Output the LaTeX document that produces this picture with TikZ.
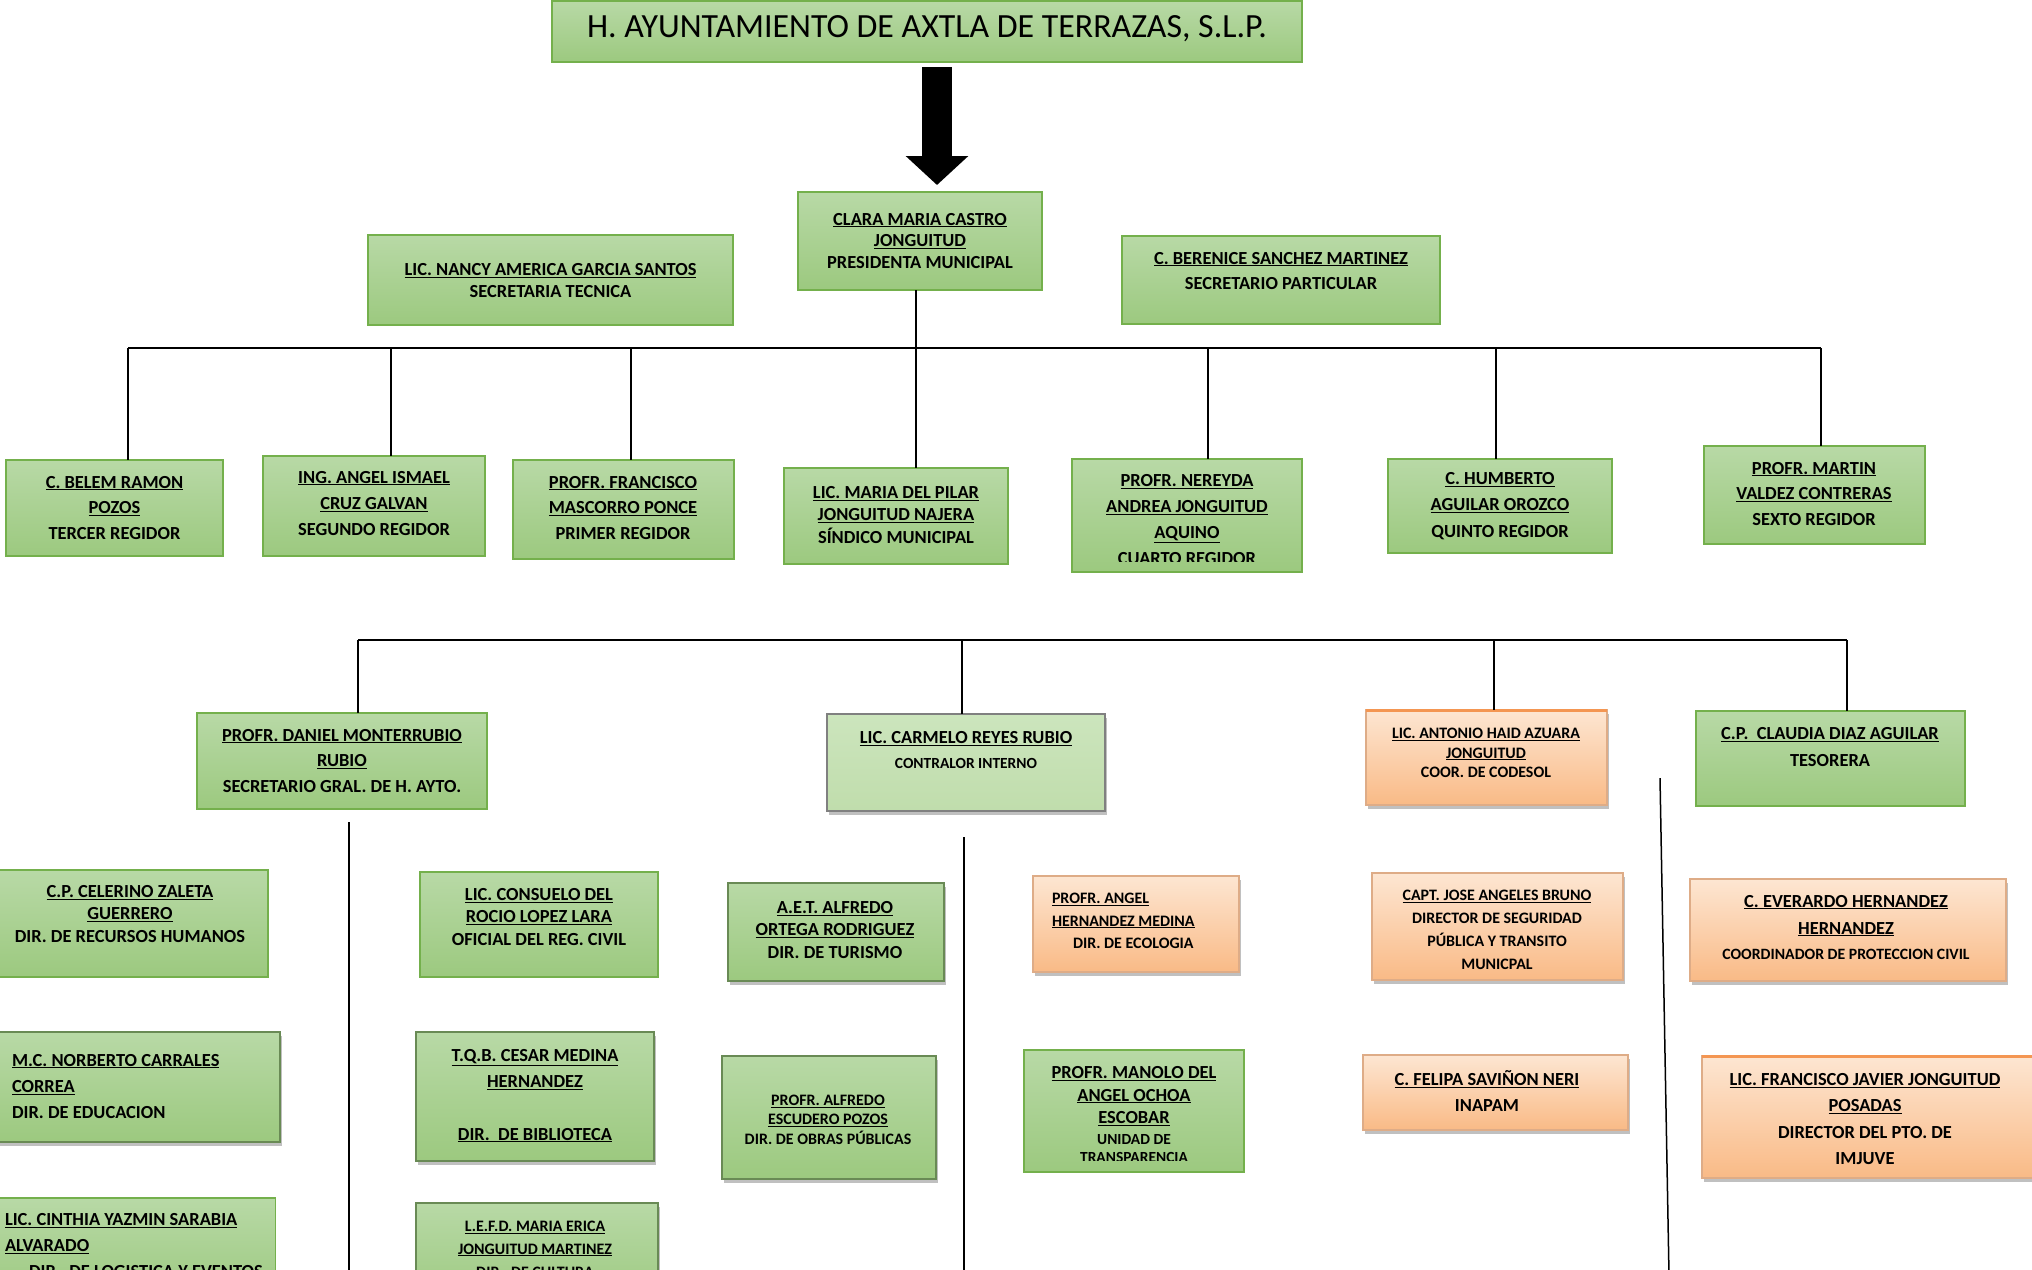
\documentclass[tikz,border=0pt]{standalone}
\usepackage{fontspec}
\setmainfont{Carlito}
\usetikzlibrary{arrows.meta,shadows}
\definecolor{gtop}{RGB}{184,217,166}
\definecolor{gbot}{RGB}{156,201,127}
\definecolor{gdraw}{RGB}{116,176,76}
\definecolor{ltop}{RGB}{204,229,189}
\definecolor{lbot}{RGB}{192,221,172}
\definecolor{otop}{RGB}{253,230,210}
\definecolor{obot}{RGB}{249,186,134}
\definecolor{odraw}{RGB}{222,172,135}
\definecolor{oline}{RGB}{244,150,82}
\definecolor{sdraw}{RGB}{105,138,85}
\newcommand\setfs[2]{\fontsize{#1}{#2}\selectfont\bfseries}
\newcommand\ulx[1]{\underline{#1}}
\tikzset{
 box/.style={inner sep=0pt, outer sep=0pt, line width=1.3bp},
 shad/.style={drop shadow={shadow xshift=2bp, shadow yshift=-3.5bp, fill=black!55, opacity=0.45}},
 gbox/.style={box, draw=gdraw, top color=gtop, bottom color=gbot},
 sbox/.style={box, shad, draw=sdraw, top color=gtop, bottom color=gbot},
 lbox/.style={box, shad, draw=black!50, top color=ltop, bottom color=lbot},
 obox/.style={box, shad, draw=odraw, top color=otop, bottom color=obot},
 txt/.style={inner sep=0pt, outer sep=0pt, align=center, text=black},
 ltxt/.style={inner sep=0pt, outer sep=0pt, align=left, anchor=west, text=black},
 link/.style={draw=black, line width=1.5bp},
 topline/.style={draw=oline, line width=3bp},
}
\begin{document}
\begin{tikzpicture}[x=1bp, y=-1bp]
\useasboundingbox (0,0) rectangle (2032,1269);
\clip (0,0) rectangle (2032,1269);

% ---------- title ----------
\node[gbox, minimum width=750bp, minimum height=61bp] (title) at (927,31.5) {};
\node[txt, font=\fontsize{34}{40}\selectfont] (titleT) at (927,29) {H. AYUNTAMIENTO DE AXTLA DE TERRAZAS, S.L.P.};

% ---------- top level ----------
\node[gbox, minimum width=244bp, minimum height=98bp] (clara) at (920,241) {};
\node[txt, font=\setfs{18.5}{22}] (claraT) at (920,241) {\ulx{CLARA MARIA CASTRO}\\\ulx{JONGUITUD}\\PRESIDENTA MUNICIPAL};

\node[gbox, minimum width=365bp, minimum height=90bp] (nancy) at (550.5,280) {};
\node[txt, font=\setfs{18.5}{22}] (nancyT) at (550.5,280.6) {\ulx{LIC. NANCY AMERICA GARCIA SANTOS}\\SECRETARIA TECNICA};

\node[gbox, minimum width=318bp, minimum height=88bp] (berenice) at (1281,280) {};
\node[txt, font=\setfs{18.5}{26}] (bereniceT) at (1281,271) {\ulx{C. BERENICE SANCHEZ MARTINEZ}\\SECRETARIO PARTICULAR};

\coordinate (ax) at (937,0);
\draw[line width=30bp, -{Triangle[width=61bp,length=29bp]}, shorten <=5bp, shorten >=7bp] (title.south -| ax) -- (clara.north -| ax);

% ---------- regidores ----------
\node[gbox, minimum width=217bp, minimum height=96bp] (belem) at (114.5,508) {};
\node[txt, font=\setfs{18.5}{26}] (belemT) at (114.5,508) {\ulx{C. BELEM RAMON}\\\ulx{POZOS}\\TERCER REGIDOR};

\node[gbox, minimum width=222bp, minimum height=100bp] (angel) at (374,506) {};
\node[txt, font=\setfs{18.5}{26.5}] (angelT) at (374,503.5) {\ulx{ING. ANGEL ISMAEL}\\\ulx{CRUZ GALVAN}\\SEGUNDO REGIDOR};

\node[gbox, minimum width=221bp, minimum height=99bp] (francisco) at (623.5,509.5) {};
\node[txt, font=\setfs{18.5}{26}] (franciscoT) at (623,508) {\ulx{PROFR. FRANCISCO}\\\ulx{MASCORRO PONCE}\\PRIMER REGIDOR};

\node[gbox, minimum width=224bp, minimum height=96bp] (pilar) at (896,516) {};
\node[txt, font=\setfs{18.5}{22.7}] (pilarT) at (896,515) {\ulx{LIC. MARIA DEL PILAR}\\\ulx{JONGUITUD NAJERA}\\SÍNDICO MUNICIPAL};

\node[gbox, minimum width=230bp, minimum height=113bp] (nereyda) at (1187,515.5) {};
\begin{scope}
\clip (1072,459) rectangle (1302,561);
\node[txt, font=\setfs{18.5}{26.2}] (nereydaT) at (1187,519.5) {\ulx{PROFR. NEREYDA}\\\ulx{ANDREA JONGUITUD}\\\ulx{AQUINO}\\CUARTO REGIDOR};
\end{scope}

\node[gbox, minimum width=224bp, minimum height=94bp] (humberto) at (1500,506) {};
\node[txt, font=\setfs{18.5}{26.6}] (humbertoT) at (1500,506) {\ulx{C. HUMBERTO}\\\ulx{AGUILAR OROZCO}\\QUINTO REGIDOR};

\node[gbox, minimum width=221bp, minimum height=98bp] (martin) at (1814.5,495) {};
\node[txt, font=\setfs{18.5}{26}] (martinT) at (1814,494) {\ulx{PROFR. MARTIN}\\\ulx{VALDEZ CONTRERAS}\\SEXTO REGIDOR};

% ---------- first bus ----------
\coordinate (b1L) at (128,348);
\coordinate (b1R) at (1821,348);
\coordinate (d2) at (391,348);
\coordinate (d3) at (631,348);
\coordinate (d4) at (916,0);
\coordinate (d5) at (1208,348);
\coordinate (d6) at (1496,348);
\draw[link, line width=2bp] (b1L) -- (b1R);
\draw[link] (b1L) -- (b1L |- belem.north);
\draw[link] (d2) -- (d2 |- angel.north);
\draw[link] (d3) -- (d3 |- francisco.north);
\draw[link] (clara.south -| d4) -- (pilar.north -| d4);
\draw[link] (d5) -- (d5 |- nereyda.north);
\draw[link] (d6) -- (d6 |- humberto.north);
\draw[link] (b1R) -- (b1R |- martin.north);

% ---------- second level ----------
\node[gbox, minimum width=290bp, minimum height=96bp] (daniel) at (342,761) {};
\node[txt, font=\setfs{18.5}{26}] (danielT) at (342,761) {\ulx{PROFR. DANIEL MONTERRUBIO}\\\ulx{RUBIO}\\SECRETARIO GRAL. DE H. AYTO.};

\node[lbox, minimum width=278bp, minimum height=97bp] (carmelo) at (966,762.5) {};
\node[txt, font=\setfs{18.5}{22}] (carmeloT) at (966,739) {\ulx{LIC. CARMELO REYES RUBIO}};
\node[txt, font=\setfs{15.5}{19}] (carmeloT2) at (966,763) {CONTRALOR INTERNO};

\node[obox, minimum width=241bp, minimum height=95bp] (antonio) at (1486.5,757.5) {};
\draw[topline] (antonio.north west) -- (antonio.north east);
\node[txt, font=\setfs{16}{19.4}] (antonioT) at (1486,753) {\ulx{LIC. ANTONIO HAID AZUARA}\\\ulx{JONGUITUD}\\COOR. DE CODESOL};

\node[gbox, minimum width=269bp, minimum height=95bp] (claudia) at (1830.5,758.5) {};
\node[txt, font=\setfs{18.5}{27}] (claudiaT) at (1830,747) {\ulx{C.P.\ \ CLAUDIA DIAZ AGUILAR}\\TESORERA};

% ---------- second bus ----------
\coordinate (b2L) at (358,640);
\coordinate (b2R) at (1847,640);
\coordinate (e2) at (962,640);
\coordinate (e3) at (1494,640);
\draw[link] (b2L) -- (b2R);
\draw[link] (b2L) -- (b2L |- daniel.north);
\draw[link] (e2) -- (e2 |- carmelo.north);
\draw[link] (e3) -- (e3 |- antonio.north);
\draw[link] (b2R) -- (b2R |- claudia.north);

% ---------- long verticals ----------
\coordinate (v1t) at (349,822);
\coordinate (v1b) at (349,1275);
\coordinate (v2t) at (964,837);
\coordinate (v2b) at (964,1275);
\coordinate (v3t) at (1660,778);
\coordinate (v3b) at (1669,1275);
\draw[link] (v1t) -- (v1b);
\draw[link] (v2t) -- (v2b);
\draw[link] (v3t) -- (v3b);

% ---------- third level: left column ----------
\node[gbox, minimum width=271bp, minimum height=107bp] (celerino) at (132.5,923.5) {};
\node[txt, font=\setfs{18.5}{22.7}] (celerinoT) at (130,914) {\ulx{C.P. CELERINO ZALETA}\\\ulx{GUERRERO}\\DIR. DE RECURSOS HUMANOS};

\node[sbox, minimum width=283bp, minimum height=110bp] (norberto) at (138.5,1087) {};
\node[ltxt, font=\setfs{18.5}{26.5}] (norbertoT) at (12,1086.5) {\ulx{M.C. NORBERTO CARRALES}\\\ulx{CORREA}\\DIR. DE EDUCACION};

\node[gbox, minimum width=277bp, minimum height=104bp] (cinthia) at (137,1250) {};
\node[ltxt, font=\setfs{18.5}{26}] (cinthiaT) at (5,1245.5) {\ulx{LIC. CINTHIA YAZMIN SARABIA}\\\ulx{ALVARADO}\\\hspace*{24bp}DIR.\ \ DE LOGISTICA Y EVENTOS};

% ---------- second column ----------
\node[gbox, minimum width=238bp, minimum height=105bp] (consuelo) at (539,924.5) {};
\node[txt, font=\setfs{18.5}{22.8}] (consueloT) at (539,917) {\ulx{LIC. CONSUELO DEL}\\\ulx{ROCIO LOPEZ LARA}\\OFICIAL DEL REG. CIVIL};

\node[sbox, minimum width=238bp, minimum height=129bp] (cesar) at (535,1096.5) {};
\node[txt, font=\setfs{18.5}{26.4}] (cesarT) at (535,1095.7) {\ulx{T.Q.B. CESAR MEDINA}\\\ulx{HERNANDEZ}\\\mbox{}\\\ulx{DIR.\ \ DE BIBLIOTECA}};

\node[sbox, minimum width=242bp, minimum height=104bp] (erica) at (537,1255) {};
\node[txt, font=\setfs{16}{23}] (ericaT) at (535,1249) {\ulx{L.E.F.D. MARIA ERICA}\\\ulx{JONGUITUD MARTINEZ}\\DIR.\ \ DE CULTURA};

% ---------- third column ----------
\node[sbox, minimum width=216bp, minimum height=98bp] (ortega) at (836,932) {};
\node[txt, font=\setfs{18.5}{22.8}] (ortegaT) at (835,930) {\ulx{A.E.T. ALFREDO}\\\ulx{ORTEGA RODRIGUEZ}\\DIR. DE TURISMO};

\node[sbox, minimum width=214bp, minimum height=123bp] (escudero) at (829,1117.5) {};
\node[txt, font=\setfs{16}{19.4}] (escuderoT) at (828,1119.7) {\ulx{PROFR. ALFREDO}\\\ulx{ESCUDERO POZOS}\\DIR. DE OBRAS PÚBLICAS};

% ---------- fourth column ----------
\node[obox, minimum width=206bp, minimum height=96bp] (ecologia) at (1136,924) {};
\node[ltxt, font=\setfs{16}{22.7}] (ecologiaT) at (1052,921) {\ulx{PROFR. ANGEL}\\\ulx{HERNANDEZ MEDINA}\\\hspace*{21bp}DIR. DE ECOLOGIA};

\node[gbox, minimum width=220bp, minimum height=122bp] (manolo) at (1134,1111) {};
\node[txt, font=\setfs{18.5}{22.7}] (manoloT) at (1134,1096) {\ulx{PROFR. MANOLO DEL}\\\ulx{ANGEL OCHOA}\\\ulx{ESCOBAR}};
\begin{scope}
\clip (1024,1128) rectangle (1244,1160.5);
\node[txt, font=\setfs{15.5}{18.7}] (manoloT2) at (1134,1148.4) {UNIDAD DE\\TRANSPARENCIA};
\end{scope}

% ---------- fifth column ----------
\node[obox, minimum width=251bp, minimum height=107bp] (jose) at (1497.5,926.5) {};
\node[txt, font=\setfs{16}{22.8}] (joseT) at (1497,929.8) {\ulx{CAPT. JOSE ANGELES BRUNO}\\DIRECTOR DE SEGURIDAD\\PÚBLICA Y TRANSITO\\MUNICPAL};

\node[obox, minimum width=265bp, minimum height=75bp] (felipa) at (1495.5,1092.5) {};
\node[txt, font=\setfs{18.5}{26}] (felipaT) at (1487,1091) {\ulx{C. FELIPA SAVIÑON NERI}\\INAPAM};

% ---------- sixth column ----------
\node[obox, minimum width=316bp, minimum height=102bp] (everardo) at (1848,930) {};
\node[txt, font=\setfs{18.5}{27}] (everardoT) at (1846,915.5) {\ulx{C. EVERARDO HERNANDEZ}\\\ulx{HERNANDEZ}};
\node[txt, font=\setfs{15.8}{19}] (everardoT2) at (1846,954) {COORDINADOR DE PROTECCION CIVIL};

\node[obox, minimum width=334bp, minimum height=122bp] (imjuve) at (1869,1117) {};
\draw[topline] (imjuve.north west) -- (imjuve.north east);
\node[txt, font=\setfs{18.5}{26.3}] (imjuveT) at (1865,1119) {\ulx{LIC. FRANCISCO JAVIER JONGUITUD}\\\ulx{POSADAS}\\DIRECTOR DEL PTO. DE\\IMJUVE};

\end{tikzpicture}
\end{document}
